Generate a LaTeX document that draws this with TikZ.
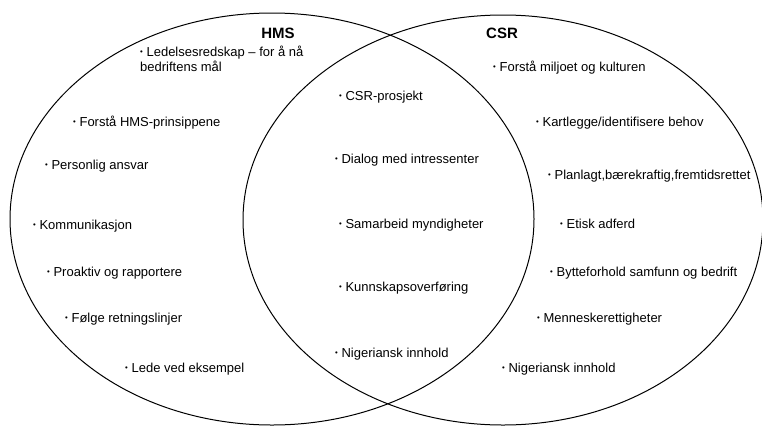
\documentclass[tikz,border=0pt]{standalone}
\usepackage{fontspec}
\setmainfont{Liberation Sans}
\usepackage{graphicx}
\usetikzlibrary{shapes,positioning}
\tikzstyle{ring} = [draw, ellipse, line width=1pt, inner sep=0pt]
\tikzstyle{tittel} = [font=\fontsize{15}{17}\selectfont\bfseries, inner sep=0pt]
\tikzstyle{punkt} = [font=\fontsize{13}{15}\selectfont, anchor=base west, inner sep=0pt, align=left]
\newcommand{\pkt}{\raisebox{0.12em}{\scalebox{0.6}{•}}\hspace{0.28em}}

\begin{document}
\begin{tikzpicture}[x=1pt,y=-1pt]
	\useasboundingbox (0,0) rectangle (762,426);
	
	\node[ring, minimum width=524pt, minimum height=412pt] (HMSring) at (272,219) {};
	\node[ring, minimum width=520pt, minimum height=410pt] (CSRring) at (503,220) {};
	
	\node[tittel] (HMS) at (278,33) {HMS};
	\node[tittel] (CSR) at (502,33) {CSR};
	
	% HMS
	\node[punkt] (Ledelse) at (140,71.5) {\pkt Ledelsesredskap – for å nå\\bedriftens mål};
	\node[punkt] (ForstaHMS) at (73,126.5) {\pkt Forstå HMS-prinsippene};
	\node[punkt] (Personlig) at (45,169.5) {\pkt Personlig ansvar};
	\node[punkt] (Kommunikasjon) at (33,229.5) {\pkt Kommunikasjon};
	\node[punkt] (Proaktiv) at (47,276.5) {\pkt Proaktiv og rapportere};
	\node[punkt] (Folge) at (65,322.5) {\pkt Følge retningslinjer};
	\node[punkt] (Lede) at (125,372.5) {\pkt Lede ved eksempel};
	
	% felles
	\node[punkt] (Prosjekt) at (339,100.5) {\pkt CSR-prosjekt};
	\node[punkt] (Dialog) at (335,163.5) {\pkt Dialog med intressenter};
	\node[punkt] (Samarbeid) at (339,228.5) {\pkt Samarbeid myndigheter};
	\node[punkt] (Kunnskap) at (339,291.5) {\pkt Kunnskapsoverføring};
	\node[punkt] (NigFelles) at (335,357.5) {\pkt Nigeriansk innhold};
	
	% CSR
	\node[punkt] (ForstaMiljo) at (493,71.5) {\pkt Forstå miljoet og kulturen};
	\node[punkt] (Kartlegge) at (536,126.5) {\pkt Kartlegge/identifisere behov};
	\node[punkt] (Planlagt) at (548,179.5) {\pkt Planlagt,bærekraftig,fremtidsrettet};
	\node[punkt] (Etisk) at (560,228.5) {\pkt Etisk adferd};
	\node[punkt] (Bytte) at (550,276.5) {\pkt Bytteforhold samfunn og bedrift};
	\node[punkt] (Menneske) at (537,322.5) {\pkt Menneskerettigheter};
	\node[punkt] (NigCSR) at (502,372.5) {\pkt Nigeriansk innhold};
\end{tikzpicture}
\end{document}
